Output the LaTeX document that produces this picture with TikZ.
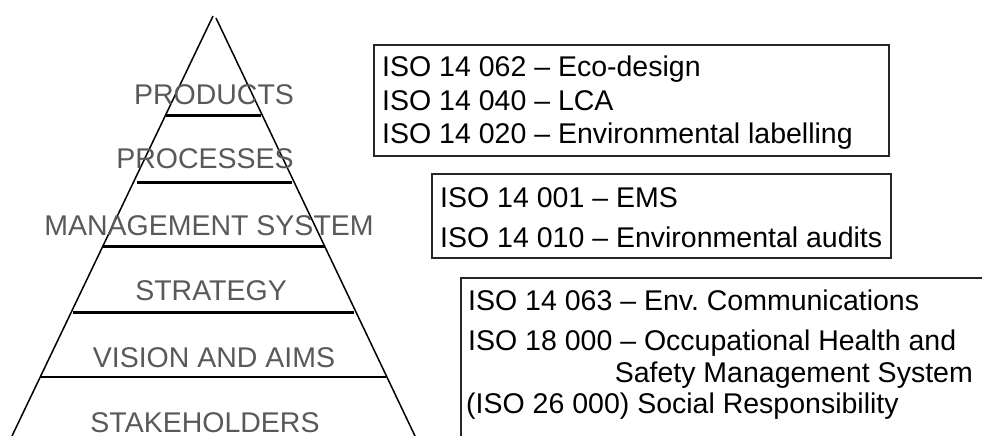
\documentclass[tikz,border=0pt]{standalone}
\usepackage{fontspec}
\setmainfont{Liberation Sans}
\frenchspacing
\begin{document}
\begin{tikzpicture}[x=1pt,y=-1pt,
  lvl/.style={anchor=base,text=black!65,inner sep=0pt,font=\fontsize{28.5}{34}\selectfont},
  iso/.style={anchor=base west,text=black,inner sep=0pt,font=\fontsize{28.5}{34}\selectfont},
  edge/.style={line width=1.5pt,black},
  tier/.style={line width=3pt,black},
  frame/.style={line width=1.2pt,black!85}]
\useasboundingbox (0,0) rectangle (982,436);
% pyramid edges
\coordinate (apexL) at (213,16);
\coordinate (apexR) at (216,18);
\coordinate (baseL) at (12,436);
\coordinate (baseR) at (415,436);
\draw[edge] (apexL) -- (baseL);
\draw[edge] (apexR) -- (baseR);
% tiers
\draw[tier] (166,115) -- (261,115);
\draw[tier] (137,182) -- (292,182);
\draw[tier] (103,246) -- (325,246);
\draw[tier] (73,312) -- (354,312);
\draw[line width=2pt] (40,377) -- (386,377);
% level labels
\node[lvl] (products) at (214,104) {PRODUCTS};
\node[lvl] (processes) at (205,168) {PROCESSES};
\node[lvl] (mgmt) at (209,235) {MANAGEMENT SYSTEM};
\node[lvl] (strategy) at (211,300) {STRATEGY};
\node[lvl] (vision) at (214,367) {VISION AND AIMS};
\node[lvl] (stake) at (205,432) {STAKEHOLDERS};
% box 1
\draw[frame] (374,45) rectangle (889,156);
\node[iso] (a1) at (382,77) {ISO 14 062 – Eco-design};
\node[iso] (a2) at (382,110) {ISO 14 040 – LCA};
\node[iso] (a3) at (382,143) {ISO 14 020 – Environmental labelling};
% box 2
\draw[frame] (432,174) rectangle (891,258);
\node[iso] (b1) at (440,207) {ISO 14 001 – EMS};
\node[iso] (b2) at (440,247) {ISO 14 010 – Environmental audits};
% box 3 (open to the right and bottom)
\draw[frame] (982,278) -- (461,278) -- (461,436);
\node[iso] (c1) at (468,310) {ISO 14 063 – Env.\ Communications};
\node[iso] (c2) at (468,350) {ISO 18 000 – Occupational Health and};
\node[anchor=base east,text=black,inner sep=0pt,font=\fontsize{28.5}{34}\selectfont] (c3) at (973,382) {Safety Management System};
\node[iso] (c4) at (466,413) {(ISO 26 000) Social Responsibility};
\end{tikzpicture}
\end{document}
